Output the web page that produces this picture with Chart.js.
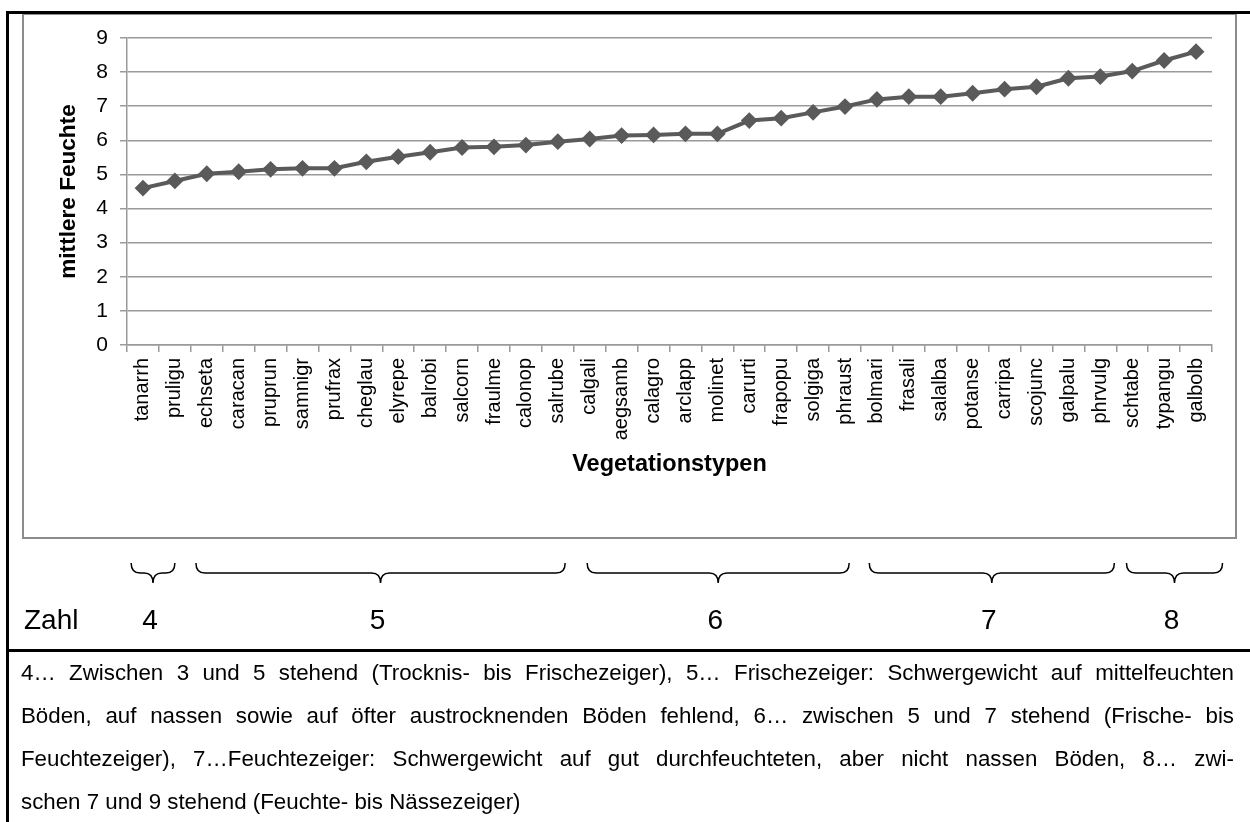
<!DOCTYPE html>
<html>
<head>
<meta charset="utf-8">
<script src="https://cdn.jsdelivr.net/npm/chart.js@4.4.1/dist/chart.umd.min.js"></script>
<style>
  html, body { margin: 0; padding: 0; background: #fff; }
  body { width: 1250px; height: 822px; position: relative; overflow: hidden; font-family: "Liberation Sans", Arial, sans-serif; }
  #chart { position: absolute; left: 0; top: 0; }
  .bline { position: absolute; background: #000; }
  #para { position: absolute; left: 21px; top: 651px; width: 1213px; font-size: 22.3px; line-height: 43px; color: #000; }
  #para div { text-align: justify; text-align-last: justify; white-space: nowrap; }
  #para div.last { text-align: left; text-align-last: left; }
</style>
</head>
<body>
<canvas id="chart" width="1250" height="650"></canvas>
<div class="bline" style="left:6px; top:11px; width:1244px; height:3px;"></div>
<div class="bline" style="left:6px; top:11px; width:3px; height:811px;"></div>
<div class="bline" style="left:6px; top:649px; width:1244px; height:3px;"></div>
<div id="para"></div>
<script>
// ---- data ----
const categories = ["tanarrh","pruligu","echseta","caracan","pruprun","samnigr","prufrax","cheglau","elyrepe","balrobi","salcorn","fraulme","calonop","salrube","calgali","aegsamb","calagro","arclapp","molinet","carurti","frapopu","solgiga","phraust","bolmari","frasali","salalba","potanse","carripa","scojunc","galpalu","phrvulg","schtabe","typangu","galbolb"];
const mittlereFeuchte = [4.60,4.81,5.02,5.08,5.15,5.18,5.18,5.37,5.52,5.65,5.79,5.81,5.86,5.96,6.04,6.14,6.16,6.19,6.19,6.58,6.65,6.82,6.99,7.20,7.28,7.28,7.38,7.50,7.57,7.82,7.87,8.03,8.34,8.60];
const yAxisTitle = "mittlere Feuchte";
const xAxisTitle = "Vegetationstypen";
// Zahl groups: label and span in category units
const zahlLabels = ["4","5","6","7","8"];
const zahlSpanStart = [-0.37, 1.66, 13.92, 22.76, 30.82];
const zahlSpanEnd = [1.0, 13.23, 22.13, 30.44, 33.83];
const zahlTitle = "Zahl";
const noteLines = [
  "4\u2026 Zwischen 3 und 5 stehend (Trocknis- bis Frischezeiger), 5\u2026 Frischezeiger: Schwergewicht auf mittelfeuchten",
  "B\u00f6den, auf nassen sowie auf \u00f6fter austrocknenden B\u00f6den fehlend, 6\u2026 zwischen 5 und 7 stehend (Frische- bis",
  "Feuchtezeiger), 7\u2026Feuchtezeiger: Schwergewicht auf gut durchfeuchteten, aber nicht nassen B\u00f6den, 8\u2026 zwi-",
  "schen 7 und 9 stehend (Feuchte- bis N\u00e4ssezeiger)"
];

// ---- paragraph ----
const para = document.getElementById('para');
noteLines.forEach((t, i) => {
  const d = document.createElement('div');
  d.textContent = t;
  if (i === noteLines.length - 1) d.className = 'last';
  para.appendChild(d);
});

// ---- chart ----
const FONT = "'Liberation Sans', Arial, sans-serif";
Chart.defaults.font.family = FONT;
Chart.defaults.color = '#000';

const framePlugin = {
  id: 'frame',
  beforeDraw(chart) {
    const ctx = chart.ctx;
    ctx.save();
    ctx.strokeStyle = '#8c8c8c';
    ctx.lineWidth = 2;
    ctx.strokeRect(23, 14, 1213, 524);
    ctx.restore();
  }
};

const bracePlugin = {
  id: 'braces',
  afterDraw(chart) {
    const ctx = chart.ctx;
    const xs = chart.scales.x;
    const y0 = 563, y1 = 573, y2 = 583;
    ctx.save();
    ctx.strokeStyle = '#000';
    ctx.lineWidth = 1.5;
    for (let i = 0; i < zahlLabels.length; i++) {
      const xa = xs.getPixelForValue(zahlSpanStart[i]);
      const xb = xs.getPixelForValue(zahlSpanEnd[i]);
      const xm = (xa + xb) / 2;
      const r = 9;
      ctx.beginPath();
      ctx.moveTo(xa, y0);
      ctx.quadraticCurveTo(xa, y1, xa + r, y1);
      ctx.lineTo(xm - r, y1);
      ctx.quadraticCurveTo(xm, y1, xm, y2);
      ctx.quadraticCurveTo(xm, y1, xm + r, y1);
      ctx.lineTo(xb - r, y1);
      ctx.quadraticCurveTo(xb, y1, xb, y0);
      ctx.stroke();
      ctx.font = "28px " + FONT;
      ctx.fillStyle = '#000';
      ctx.textAlign = 'center';
      ctx.textBaseline = 'alphabetic';
      ctx.fillText(zahlLabels[i], xm - 3, 629);
    }
    ctx.font = "28px " + FONT;
    ctx.textAlign = 'left';
    ctx.fillText(zahlTitle, 24, 629);
    ctx.restore();
  }
};

new Chart(document.getElementById('chart'), {
  type: 'line',
  data: {
    labels: categories,
    datasets: [{
      data: mittlereFeuchte,
      borderColor: '#5a5a5a',
      backgroundColor: '#5a5a5a',
      borderWidth: 4,
      pointStyle: 'rectRot',
      pointRadius: 7,
      pointBorderWidth: 2,
      pointBackgroundColor: '#5a5a5a',
      pointBorderColor: '#5a5a5a',
      tension: 0,
      fill: false
    }]
  },
  options: {
    responsive: false,
    animation: false,
    devicePixelRatio: 1,
    layout: { padding: { left: 51, top: 38, right: 38, bottom: 167 } },
    plugins: { legend: { display: false }, tooltip: { enabled: false } },
    scales: {
      x: {
        type: 'category',
        offset: true,
        grid: { drawOnChartArea: false, drawTicks: true, tickLength: 7, offset: true, color: '#9a9a9a', lineWidth: 1.5 },
        border: { display: true, color: '#9a9a9a', width: 1.5 },
        ticks: { autoSkip: false, minRotation: 90, maxRotation: 90, padding: 6, font: { size: 20 }, color: '#000' },
        title: { display: true, text: xAxisTitle, font: { size: 23.5, weight: 'bold' }, color: '#000', padding: { top: 4, bottom: 4 } },
        afterFit(scale) { scale.height = 138; }
      },
      y: {
        min: 0, max: 9,
        ticks: { stepSize: 1, padding: 12, font: { size: 21 }, color: '#000' },
        grid: { color: '#9a9a9a', lineWidth: 1.5, tickLength: 7, drawTicks: true },
        border: { display: true, color: '#9a9a9a', width: 1.5 },
        title: { display: true, text: yAxisTitle, font: { size: 22.6, weight: 'bold' }, color: '#000', padding: { top: 4, bottom: 4 } },
        afterFit(scale) { scale.width = 76; }
      }
    }
  },
  plugins: [framePlugin, bracePlugin]
});
</script>
</body>
</html>
